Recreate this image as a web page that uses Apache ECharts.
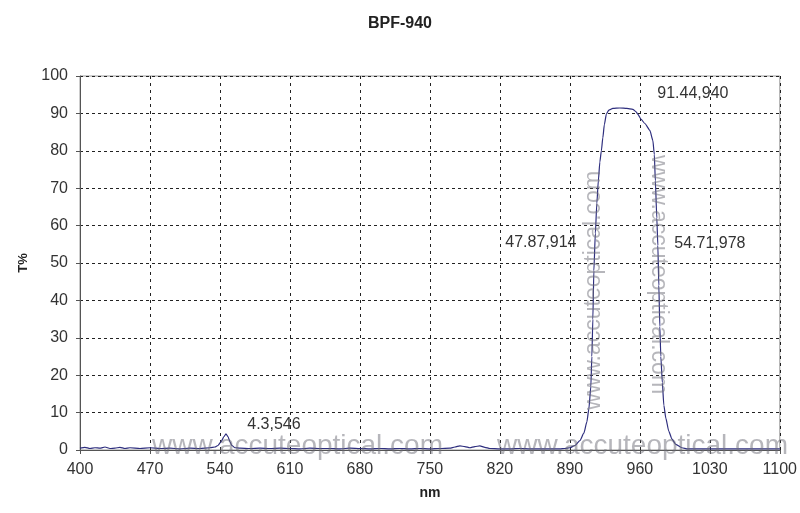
<!DOCTYPE html>
<html>
<head>
<meta charset="utf-8">
<script src="https://cdn.jsdelivr.net/npm/echarts@6/dist/echarts.min.js"></script>
<style>
  html, body { margin: 0; padding: 0; background: #fff; }
  #chart { width: 800px; height: 513px; }
</style>
</head>
<body>
<div id="chart"></div>
<script>
// --- data ---
const wavelengths = [
  400, 405, 410, 415, 420, 425, 430, 435, 440, 445, 450, 460, 470, 480, 490, 500, 510, 520, 530, 535,
  538, 541, 544, 546, 548, 550, 552, 555, 560, 570, 580, 590, 600, 610, 620, 630, 640, 650, 660, 670,
  680, 690, 700, 710, 720, 730, 740, 750, 760, 770, 775, 780, 785, 790, 795, 800, 805, 810, 820, 830,
  840, 850, 860, 870, 880, 885, 890, 895, 900, 904, 907, 909, 911, 912, 913, 914, 915.5, 917, 918.5, 920,
  921.5, 923, 924.5, 926.5, 929, 933, 940, 947, 953, 956, 958, 961, 965, 970, 973, 974.5, 975.5, 977, 978, 979,
  980, 981, 982.5, 984, 986, 989, 992, 996, 1002, 1008, 1020, 1040, 1060, 1080, 1100
]
const transmission = [
  0.5, 0.7, 0.4, 0.6, 0.5, 0.8, 0.4, 0.5, 0.7, 0.4, 0.6, 0.4, 0.6, 0.4, 0.5, 0.3, 0.5, 0.4, 0.6, 0.8,
  1.2, 2.2, 3.6, 4.3, 3.6, 2.2, 1.2, 0.6, 0.5, 0.4, 0.5, 0.4, 0.5, 0.4, 0.3, 0.5, 0.4, 0.4, 0.3, 0.5,
  0.4, 0.3, 0.4, 0.3, 0.4, 0.3, 0.4, 0.3, 0.4, 0.5, 0.8, 1.1, 0.9, 0.6, 0.9, 1.1, 0.7, 0.4, 0.3, 0.3,
  0.4, 0.3, 0.3, 0.3, 0.3, 0.4, 0.6, 1.2, 2.5, 4.5, 7.5, 11, 17, 25, 35, 47.87, 58, 66, 72, 77,
  80, 83.5, 87, 89.8, 90.9, 91.35, 91.44, 91.35, 91.1, 90.5, 89.8, 88.5, 87.3, 85.5, 82.8, 79, 72, 62, 54.71, 44,
  33, 25, 18, 12, 8.5, 5, 3, 1.5, 0.6, 0.3, 0.3, 0.3, 0.3, 0.3, 0.3
]
const xTicks = [400, 1100, 70]   // min, max, step
const yTicks = [0, 100, 10]
// annotated points [nm, T%] and where their text sits relative to the point
const notes = [[940, 91.44], [914, 47.87], [978, 54.71], [546, 4.3]]
const noteOffsets = [[73, -14], [-53, -28], [52, -2], [48, -9]]

const seriesData = wavelengths.map((w, i) => [w, transmission[i]])
const watermark = 'www.accuteoptical.com'
const wmColor = 'rgba(110, 110, 120, 0.5)'
const font = 'Liberation Sans, Arial'

const chart = echarts.init(document.getElementById('chart'))

const option = {
  backgroundColor: '#fff',
  animation: false,
  title: {
    text: 'BPF-940',
    left: 'center',
    top: 11,
    textStyle: { fontFamily: font, fontSize: 16, fontWeight: 'bold', color: '#222' }
  },
  grid: {
    left: 80, right: 20, top: 76, bottom: 63,
    show: true, borderColor: '#999', borderWidth: 1
  },
  xAxis: {
    type: 'value',
    min: xTicks[0], max: xTicks[1], interval: xTicks[2],
    name: 'nm',
    nameLocation: 'middle',
    nameGap: 36,
    nameTextStyle: { fontFamily: font, fontSize: 14, fontWeight: 'bold', color: '#222' },
    axisLine: { show: true, lineStyle: { color: '#555', width: 1 } },
    axisTick: { show: true, length: 4, lineStyle: { color: '#555' } },
    axisLabel: { fontFamily: font, fontSize: 16, color: '#333', margin: 12, formatter: v => String(v) },
    splitLine: { show: true, lineStyle: { color: '#222', type: [3, 4], width: 1 } }
  },
  yAxis: {
    type: 'value',
    min: yTicks[0], max: yTicks[1], interval: yTicks[2],
    name: 'T%',
    nameLocation: 'middle',
    nameGap: 40,
    nameTextStyle: { fontFamily: font, fontSize: 13, fontWeight: 'bold', color: '#222' },
    axisLine: { show: true, lineStyle: { color: '#555', width: 1 } },
    axisTick: { show: true, length: 4, lineStyle: { color: '#555' } },
    axisLabel: { fontFamily: font, fontSize: 16, color: '#333', margin: 12, formatter: v => String(v) },
    splitLine: { show: true, lineStyle: { color: '#222', type: [3, 3], width: 1 } }
  },
  series: [
    {
      type: 'line',
      data: seriesData,
      showSymbol: false,
      smooth: 0.2,
      smoothMonotone: 'x',
      lineStyle: { color: '#2e2e7e', width: 1.2 },
      markPoint: {
        symbol: 'circle',
        symbolSize: 0,
        data: notes.map((p, i) => ({
          coord: p,
          label: {
            show: true,
            formatter: p[1] + ',' + p[0],
            offset: noteOffsets[i],
            fontFamily: font,
            fontSize: 16,
            color: '#333'
          }
        }))
      }
    }
  ],
  // watermark text printed over the original plot
  graphic: [
    { type: 'text', left: 152, top: 432, z: 100, style: { text: watermark, fontFamily: font, fontSize: 28, fill: wmColor } },
    { type: 'text', left: 497, top: 432, z: 100, style: { text: watermark, fontFamily: font, fontSize: 28, fill: wmColor } },
    { type: 'text', x: 582, y: 410, rotation: Math.PI / 2, z: 100, style: { text: watermark, fontFamily: font, fontSize: 23, fill: wmColor } },
    { type: 'text', x: 670, y: 155, rotation: -Math.PI / 2, z: 100, style: { text: watermark, fontFamily: font, fontSize: 23, fill: wmColor } }
  ]
}

chart.setOption(option)
window.addEventListener('resize', () => chart.resize())
</script>
</body>
</html>
